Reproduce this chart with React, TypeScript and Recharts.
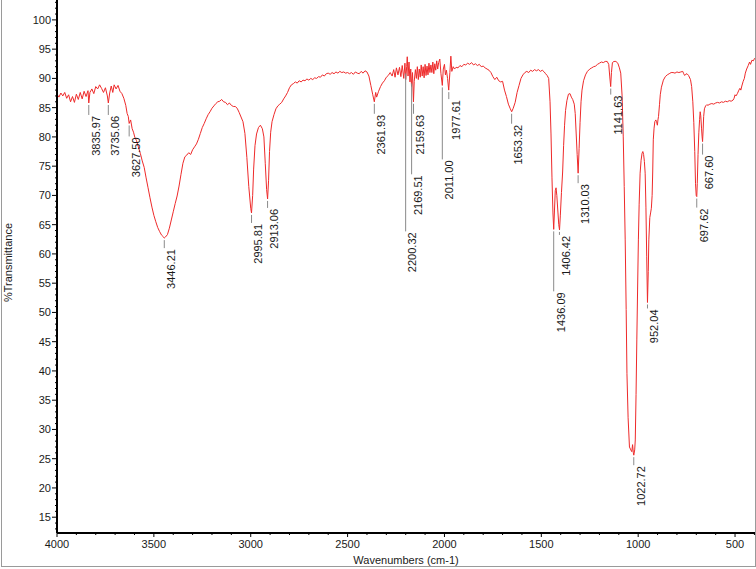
import { ComposedChart, Line, Scatter, XAxis, YAxis, Label } from "recharts";

// FT-IR spectrum, wavenumber (cm-1) vs %T
const spectrum: [number, number][] = [
  [4000, 87.3], [3990, 86.8], [3980, 87.5], [3970, 87.0], [3960, 87.6], [3950, 86.6],
  [3940, 87.2], [3930, 86.0], [3920, 86.9], [3910, 85.9], [3900, 87.3], [3890, 86.4],
  [3880, 87.6], [3870, 86.5], [3860, 87.8], [3850, 86.9], [3840, 87.9], [3836, 85.8],
  [3830, 87.6], [3820, 88.2], [3810, 87.4], [3800, 88.6], [3790, 88.2], [3780, 88.9],
  [3770, 88.3], [3760, 87.6], [3750, 88.4], [3740, 87.0], [3735, 85.8], [3728, 87.5],
  [3720, 88.7], [3712, 87.6], [3705, 88.9], [3695, 88.2], [3685, 88.8], [3675, 87.8],
  [3665, 87.4], [3655, 86.6], [3645, 85.4], [3638, 84.0], [3632, 83.5], [3627.5, 82.3],
  [3620, 82.9], [3612, 81.4], [3605, 80.8], [3598, 79.9], [3590, 79.4], [3580, 78.3],
  [3570, 77.2], [3560, 75.9], [3550, 74.8], [3540, 73.0], [3530, 71.3], [3520, 69.6],
  [3510, 68.0], [3500, 66.6], [3490, 65.5], [3480, 64.5], [3470, 63.8], [3460, 63.2],
  [3450, 62.9], [3446, 62.7], [3440, 62.9], [3430, 63.3], [3420, 64.4], [3410, 65.8],
  [3400, 67.2], [3390, 68.6], [3380, 69.9], [3370, 71.6], [3360, 73.6], [3350, 75.5],
  [3340, 76.6], [3330, 76.9], [3320, 77.3], [3310, 77.0], [3300, 77.8], [3290, 78.3],
  [3280, 78.8], [3270, 79.6], [3260, 80.6], [3250, 81.6], [3240, 82.3], [3230, 83.1],
  [3220, 83.8], [3210, 84.3], [3200, 84.9], [3190, 85.3], [3180, 85.7], [3170, 86.0],
  [3160, 86.1], [3150, 86.4], [3140, 86.0], [3130, 85.9], [3120, 85.5], [3110, 85.8],
  [3100, 85.4], [3090, 85.2], [3080, 85.2], [3070, 84.9], [3060, 84.2], [3050, 83.4],
  [3040, 82.6], [3030, 80.6], [3020, 76.5], [3010, 71.5], [3000, 67.8], [2996, 67.0],
  [2990, 70.0], [2985, 74.5], [2978, 78.5], [2970, 80.5], [2960, 81.6], [2950, 82.0],
  [2940, 81.4], [2932, 80.0], [2925, 75.5], [2918, 71.0], [2913, 69.4], [2908, 72.5],
  [2903, 77.5], [2897, 80.8], [2890, 82.6], [2880, 83.8], [2870, 84.8], [2860, 85.3],
  [2850, 85.6], [2840, 85.9], [2830, 86.5], [2820, 87.0], [2810, 87.6], [2800, 88.4],
  [2790, 88.9], [2780, 89.1], [2770, 89.4], [2760, 89.2], [2750, 89.6], [2740, 89.4],
  [2730, 89.7], [2720, 89.6], [2710, 89.9], [2700, 89.7], [2690, 90.0], [2680, 89.8],
  [2670, 90.1], [2660, 90.0], [2650, 90.3], [2640, 90.2], [2630, 90.6], [2620, 90.4],
  [2610, 90.8], [2600, 90.9], [2590, 90.7], [2580, 91.0], [2570, 90.8], [2560, 91.1],
  [2550, 90.9], [2540, 91.2], [2530, 91.0], [2520, 91.1], [2510, 90.9], [2500, 91.0],
  [2490, 90.8], [2480, 91.0], [2470, 90.7], [2460, 91.1], [2450, 90.9], [2440, 90.8],
  [2430, 91.2], [2420, 90.9], [2410, 91.3], [2400, 91.1], [2390, 90.4], [2380, 88.8],
  [2370, 87.2], [2362, 86.0], [2355, 87.6], [2350, 86.8], [2340, 87.8], [2330, 88.6],
  [2320, 89.2], [2310, 89.6], [2300, 90.2], [2290, 90.5], [2280, 91.0], [2270, 90.4],
  [2262, 91.5], [2255, 90.2], [2248, 91.8], [2240, 90.6], [2232, 91.9], [2225, 90.3],
  [2218, 92.2], [2210, 90.0], [2204, 92.6], [2200, 89.8], [2195, 92.0], [2192, 93.7],
  [2188, 90.4], [2183, 92.8], [2178, 89.4], [2174, 91.6], [2170, 88.6], [2165, 91.0],
  [2160, 86.0], [2156, 89.5], [2150, 91.5], [2145, 90.0], [2140, 92.0], [2135, 89.8],
  [2130, 91.6], [2125, 90.2], [2120, 92.3], [2115, 90.4], [2110, 92.0], [2105, 90.1],
  [2100, 92.4], [2095, 90.5], [2090, 92.1], [2085, 90.6], [2080, 92.6], [2075, 91.0],
  [2070, 92.3], [2065, 91.0], [2060, 92.8], [2055, 90.8], [2050, 92.5], [2045, 91.4],
  [2040, 93.0], [2035, 91.6], [2030, 92.7], [2024, 93.3], [2018, 90.8], [2011, 88.8],
  [2006, 91.6], [2000, 92.4], [1995, 90.6], [1990, 91.4], [1984, 90.0], [1978, 88.0],
  [1972, 91.0], [1967, 93.8], [1962, 91.2], [1955, 92.0], [1948, 91.6], [1940, 91.9],
  [1930, 91.8], [1920, 92.2], [1910, 92.0], [1900, 92.4], [1890, 92.3], [1880, 92.6],
  [1870, 92.4], [1860, 92.7], [1850, 92.3], [1840, 92.5], [1830, 92.2], [1820, 92.4],
  [1810, 92.0], [1800, 92.1], [1790, 91.8], [1780, 91.6], [1770, 91.4], [1760, 91.0],
  [1750, 90.3], [1740, 89.8], [1730, 90.2], [1720, 89.6], [1710, 89.4], [1700, 89.5],
  [1690, 88.0], [1680, 86.9], [1670, 85.6], [1660, 84.8], [1653, 84.3], [1645, 84.9],
  [1635, 85.9], [1625, 87.6], [1615, 88.8], [1605, 90.0], [1595, 90.6], [1585, 91.0],
  [1575, 91.2], [1565, 91.0], [1555, 91.4], [1545, 91.2], [1535, 91.5], [1525, 91.3],
  [1515, 91.5], [1505, 91.2], [1495, 91.4], [1485, 91.1], [1478, 90.8], [1470, 90.5],
  [1462, 90.0], [1455, 86.0], [1450, 80.5], [1445, 73.0], [1440, 67.0], [1436, 64.2],
  [1432, 67.5], [1428, 70.8], [1424, 71.3], [1420, 70.0], [1414, 67.0], [1410, 65.0],
  [1406, 64.1], [1402, 66.5], [1396, 70.5], [1390, 74.0], [1385, 78.5], [1380, 82.0],
  [1375, 84.5], [1368, 86.2], [1360, 87.3], [1352, 87.4], [1345, 86.8], [1338, 86.4],
  [1330, 85.6], [1325, 84.0], [1320, 80.5], [1315, 77.0], [1310, 73.8], [1305, 78.0],
  [1300, 82.5], [1295, 86.0], [1290, 88.0], [1282, 89.6], [1272, 90.6], [1262, 91.2],
  [1250, 91.6], [1240, 91.8], [1230, 92.0], [1220, 92.1], [1210, 92.4], [1200, 92.6],
  [1190, 92.8], [1180, 92.7], [1170, 92.9], [1160, 92.9], [1152, 92.4], [1147, 90.4],
  [1142, 88.6], [1138, 91.0], [1133, 92.7], [1125, 92.9], [1115, 92.9], [1105, 92.6],
  [1097, 91.8], [1090, 90.9], [1083, 87.0], [1077, 80.0], [1072, 71.5], [1067, 62.4],
  [1062, 50.5], [1058, 39.6], [1052, 32.0], [1045, 27.0], [1038, 26.5], [1033, 26.2],
  [1029, 27.4], [1025, 26.0], [1022.7, 25.6], [1018, 26.5], [1015, 28.2], [1011, 36.0],
  [1007, 45.3], [1003, 54.0], [999, 62.4], [995, 68.5], [990, 73.8], [985, 76.0],
  [980, 77.2], [976, 77.5], [972, 77.0], [968, 75.8], [964, 73.8], [960, 68.0],
  [956, 59.5], [952, 51.7], [948, 57.0], [945, 62.4], [940, 66.2], [936, 67.0],
  [932, 67.8], [928, 70.0], [925, 74.0], [922, 79.5], [918, 81.5], [914, 82.6],
  [909, 82.9], [905, 82.6], [901, 82.0], [898, 82.9], [895, 83.5], [890, 85.5],
  [886, 87.2], [880, 88.5], [870, 89.7], [860, 90.3], [850, 90.6], [840, 90.8],
  [830, 91.0], [820, 91.0], [810, 90.9], [800, 91.1], [790, 91.0], [780, 91.1],
  [770, 91.2], [765, 90.8], [760, 90.5], [755, 90.7], [748, 90.8], [740, 90.5],
  [730, 89.8], [724, 88.6], [718, 86.0], [713, 82.5], [708, 77.5], [704, 72.0],
  [700.5, 70.0], [697.6, 69.8], [695, 72.0], [691, 77.0], [687, 80.7], [683, 83.0],
  [680, 84.3], [677, 83.6], [673, 81.5], [670, 80.0], [667.6, 79.2], [665, 81.0],
  [662, 83.5], [658, 84.8], [652, 85.3], [646, 85.5], [640, 85.4], [630, 85.6],
  [620, 85.7], [610, 85.6], [600, 85.8], [590, 85.9], [580, 85.8], [570, 86.0],
  [560, 85.9], [550, 86.1], [540, 86.0], [530, 86.2], [520, 86.1], [510, 86.3],
  [505, 86.6], [500, 87.2], [495, 87.0], [488, 87.4], [480, 88.0], [475, 88.3],
  [470, 88.0], [465, 88.7], [458, 89.5], [452, 90.0], [447, 90.9], [440, 91.6],
  [432, 92.2], [425, 92.8], [420, 92.4], [413, 93.1], [405, 93.0], [400, 93.4],
  [397, 93.3],
];

// labelled peaks
const peakWavenumbers = [
  3835.97, 3735.06, 3627.5, 3446.21, 2995.81, 2913.06, 2361.93, 2200.32, 2169.51,
  2159.63, 2011.0, 1977.61, 1653.32, 1436.09, 1406.42, 1310.03, 1141.63, 1022.72,
  952.04, 697.62, 667.6,
];
const peakTransmittance = [
  85.8, 85.8, 82.3, 62.7, 67.0, 69.4, 86.0, 91.2, 89.5, 86.0, 88.8, 88.0, 84.3,
  64.2, 64.1, 73.8, 88.6, 25.6, 51.7, 69.8, 79.2,
];
const peakLabels = [
  "3835.97", "3735.06", "3627.50", "3446.21", "2995.81", "2913.06", "2361.93",
  "2200.32", "2169.51", "2159.63", "2011.00", "1977.61", "1653.32", "1436.09",
  "1406.42", "1310.03", "1141.63", "1022.72", "952.04", "697.62", "667.60",
];
// how far (px) each label hangs below its peak
const labelDrops = [12, 12, 13, 10, 10, 9, 12, 160, 93, 12, 74, 9, 12, 62, 5, 10, 8, 10, 6, 11, 13];

const xMajorTicks = [4000, 3500, 3000, 2500, 2000, 1500, 1000, 500];
const yMajorTicks = [15, 20, 25, 30, 35, 40, 45, 50, 55, 60, 65, 70, 75, 80, 85, 90, 95, 100];

const X_MIN = 397;
const X_MAX = 4000;
const Y_MIN = 12.3;
const Y_MAX = 103.4;

const FONT = "'Liberation Sans', Arial, sans-serif";
const TEXT = "#1a1a1a";

const spectrumRows = spectrum.map(([w, t]) => ({ w, t }));
const peakRows = peakWavenumbers.map((w, i) => ({
  w,
  t: peakTransmittance[i],
  label: peakLabels[i],
  drop: labelDrops[i],
}));

const xTicks: number[] = [];
for (let v = 4000; v >= 400; v -= 100) xTicks.push(v);
const yTicks: number[] = [];
for (let v = 13; v <= 103; v += 1) yTicks.push(v);

function XTick(props: any) {
  const { x, y, payload } = props;
  const major = xMajorTicks.includes(payload.value);
  return (
    <g>
      <line x1={x} x2={x} y1={y} y2={y + (major ? 4 : 2)} stroke="#000" strokeWidth={1} />
      {major && (
        <text x={x} y={y + 15} textAnchor="middle" fontSize={11} fill={TEXT} fontFamily={FONT}>
          {payload.value}
        </text>
      )}
    </g>
  );
}

function YTick(props: any) {
  const { x, y, payload } = props;
  const major = yMajorTicks.includes(payload.value);
  return (
    <g>
      <line x1={x - (major ? 5 : 2)} x2={x} y1={y} y2={y} stroke="#000" strokeWidth={1} />
      {major && (
        <text x={x - 6} y={y} dy="0.35em" textAnchor="end" fontSize={11} fill={TEXT} fontFamily={FONT}>
          {payload.value}
        </text>
      )}
    </g>
  );
}

function PeakMarker(props: any) {
  const { cx, cy, payload } = props;
  if (cx == null || cy == null) return <g />;
  const end = cy + payload.drop;
  const tx = cx + 7;
  const ty = end + 1;
  return (
    <g>
      <line x1={cx} x2={cx} y1={cy + 2} y2={end} stroke="#8a8a8a" strokeWidth={1} />
      <text
        x={tx}
        y={ty}
        dy="0.35em"
        textAnchor="end"
        transform={`rotate(-90 ${tx} ${ty})`}
        fontSize={11}
        fill={TEXT}
        fontFamily={FONT}
      >
        {payload.label}
      </text>
    </g>
  );
}

export default function App() {
  return (
    <div style={{ position: "absolute", left: 0, top: 0, width: 756, height: 569, background: "#fff" }}>
      <ComposedChart
        width={756}
        height={569}
        margin={{ top: 0, right: 1, left: 0, bottom: 0 }}
        style={{ fontFamily: FONT }}
      >
        <XAxis
          type="number"
          dataKey="w"
          domain={[X_MIN, X_MAX]}
          reversed
          allowDataOverflow
          ticks={xTicks}
          interval={0}
          tickSize={0}
          tickMargin={0}
          tickLine={false}
          tick={<XTick />}
          axisLine={{ stroke: "#000", strokeWidth: 2 }}
          height={36}
        >
          <Label
            content={(p: any) => {
              const vb = p.viewBox;
              return (
                <text
                  x={vb.x + vb.width / 2}
                  y={vb.y + 31}
                  textAnchor="middle"
                  fontSize={11}
                  fill={TEXT}
                  fontFamily={FONT}
                >
                  Wavenumbers (cm-1)
                </text>
              );
            }}
          />
        </XAxis>
        <YAxis
          type="number"
          dataKey="t"
          domain={[Y_MIN, Y_MAX]}
          allowDataOverflow
          ticks={yTicks}
          interval={0}
          tickSize={0}
          tickMargin={0}
          tickLine={false}
          tick={<YTick />}
          axisLine={{ stroke: "#000", strokeWidth: 2 }}
          width={57}
        >
          <Label
            content={(p: any) => {
              const vb = p.viewBox;
              const lx = 12;
              const ly = vb.y + vb.height / 2 - 4;
              return (
                <text
                  x={lx}
                  y={ly}
                  textAnchor="middle"
                  transform={`rotate(-90 ${lx} ${ly})`}
                  fontSize={11}
                  fill={TEXT}
                  fontFamily={FONT}
                >
                  %Transmittance
                </text>
              );
            }}
          />
        </YAxis>
        <Line
          data={spectrumRows}
          dataKey="t"
          type="linear"
          stroke="#ee2a2a"
          strokeWidth={1}
          dot={false}
          activeDot={false}
          isAnimationActive={false}
        />
        <Scatter
          data={peakRows}
          dataKey="t"
          shape={(p: any) => <PeakMarker {...p} />}
          isAnimationActive={false}
        />
      </ComposedChart>
      <div
        style={{
          position: "absolute",
          left: 1,
          top: 0,
          width: 753,
          height: 566,
          borderLeft: "1px solid #9a9a9a",
          borderRight: "1px solid #9a9a9a",
          borderBottom: "1px solid #9a9a9a",
          pointerEvents: "none",
        }}
      />
    </div>
  );
}
